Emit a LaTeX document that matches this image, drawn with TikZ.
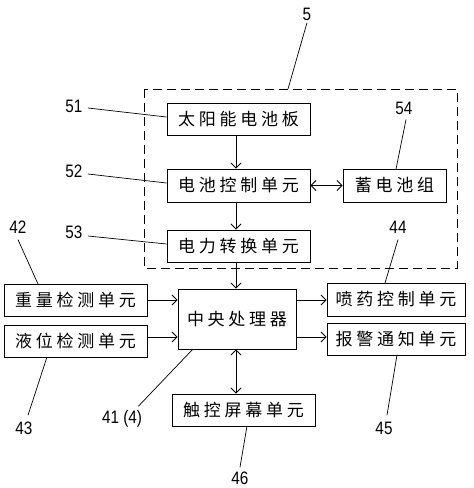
\documentclass[tikz,border=0pt]{standalone}
\usepackage{fontspec}
\setmainfont{Liberation Sans}[FakeStretch=0.85]
\newfontfamily\cjk[LetterSpace=22]{Noto Sans CJK SC}
\usetikzlibrary{arrows.meta}
\begin{document}
\begin{tikzpicture}[x=1pt,y=-1pt,
  line width=0.8pt,
  box/.style={draw, line width=0.9pt, inner sep=0pt, font=\cjk\fontsize{17}{17}\selectfont},
  lbl/.style={inner sep=0pt, font=\fontsize{18}{18}\selectfont},
  arr/.style={-{Straight Barb[length=5pt,width=10pt]}},
  darr/.style={{Straight Barb[length=5pt,width=10pt]}-{Straight Barb[length=5pt,width=10pt]}},
  lead/.style={line width=0.7pt}]
\useasboundingbox (0,0) rectangle (474,488);
% dashed frame
\draw[dash pattern=on 9pt off 5pt, line width=0.8pt] (144,89) rectangle (457,268);
% boxes
\node[box, minimum width=143, minimum height=32] (solar) at (238.5,119) {太阳能电池板};
\node[box, minimum width=143, minimum height=33] (bctl) at (238.5,185.5) {电池控制单元};
\node[box, minimum width=103, minimum height=33] (batt) at (394.5,185.5) {蓄电池组};
\node[box, minimum width=143, minimum height=32] (conv) at (238.5,246) {电力转换单元};
\node[box, minimum width=118, minimum height=60] (cpu) at (237,319) {中央处理器};
\node[box, minimum width=143, minimum height=32] (weight) at (75.5,300) {重量检测单元};
\node[box, minimum width=143, minimum height=32] (level) at (75.5,341) {液位检测单元};
\node[box, minimum width=138, minimum height=33] (spray) at (396,299.5) {喷药控制单元};
\node[box, minimum width=138, minimum height=32] (alarm) at (396,339) {报警通知单元};
\node[box, minimum width=143, minimum height=32] (touch) at (243.5,410) {触控屏幕单元};
% arrow guide coordinates
\coordinate (ax) at (236,0);
\coordinate (y1) at (0,300);
\coordinate (y2) at (0,337);
% connectors
\draw[arr] (solar.south -| ax) -- (bctl.north -| ax);
\draw[arr] (bctl.south -| ax) -- (conv.north -| ax);
\draw[arr] (conv.south -| ax) -- (cpu.north -| ax);
\draw[darr] (bctl.east) -- (batt.west);
\draw[darr] (cpu.south -| ax) -- (touch.north -| ax);
\draw[arr] (weight.east |- y1) -- (cpu.west |- y1);
\draw[arr] (level.east |- y2) -- (cpu.west |- y2);
\draw[arr] (cpu.east |- y1) -- (spray.west |- y1);
\draw[arr] (cpu.east |- y2) -- (alarm.west |- y2);
% labels
\node[lbl] (l5) at (307,14) {5};
\node[lbl] (l51) at (74,106) {51};
\node[lbl] (l52) at (74,171) {52};
\node[lbl] (l53) at (74,232) {53};
\node[lbl] (l54) at (404,108) {54};
\node[lbl] (l42) at (18,227) {42};
\node[lbl] (l44) at (398,227) {44};
\node[lbl] (l43) at (24,428) {43};
\node[lbl] (l41) at (122,419) {41 (4)};
\node[lbl] (l45) at (384,428) {45};
\node[lbl] (l46) at (240,478) {46};
% leader lines
\coordinate (e5) at (288,89);
\coordinate (e51) at (solar.west |- 0,117);
\coordinate (e52) at (bctl.west |- 0,183);
\coordinate (e53) at (conv.west |- 0,244);
\coordinate (e54) at (396,169);
\coordinate (e42) at (38,284);
\coordinate (e44) at (385,283);
\coordinate (e43) at (47,357);
\coordinate (e41) at (193,349);
\coordinate (e45) at (397,355);
\coordinate (e46) at (247,426);
\draw[lead] (l5.south) ++(0,2) -- (e5);
\draw[lead] (l51.east) ++(5,2) -- (e51);
\draw[lead] (l52.east) ++(5,3) -- (e52);
\draw[lead] (l53.east) ++(5,4) -- (e53);
\draw[lead] (l54.south) ++(2,5) -- (e54);
\draw[lead] (l42.south) ++(0,6) -- (e42);
\draw[lead] (l44.south) ++(0,6) -- (e44);
\draw[lead] (l43.north) ++(4,-6) -- (e43);
\draw[lead] (l41.north east) ++(-4,-4) -- (e41);
\draw[lead] (l45.north) ++(3,-6) -- (e45);
\draw[lead] (l46.north) ++(0,-4) -- (e46);
\end{tikzpicture}
\end{document}
